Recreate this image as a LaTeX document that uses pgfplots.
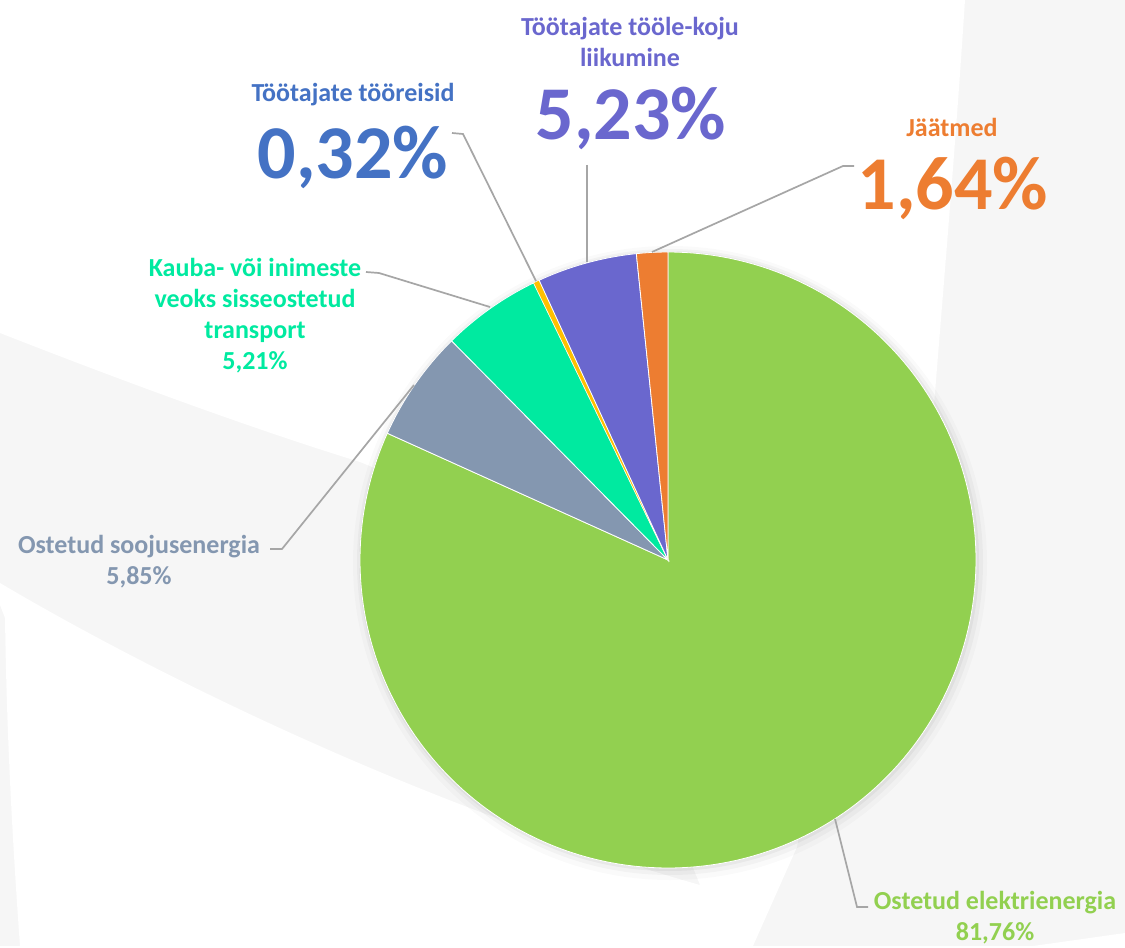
\documentclass[border=0pt]{standalone}
\usepackage{fontspec}
\setmainfont{Carlito}
\usepackage{pgfplots}
\pgfplotsset{compat=1.18}

\definecolor{cElek}{HTML}{92D050}
\definecolor{cSoo}{HTML}{8497B0}
\definecolor{cKau}{HTML}{00EAA0}
\definecolor{cReis}{HTML}{FFC000}
\definecolor{cReisTxt}{HTML}{4472C4}
\definecolor{cKoju}{HTML}{6A67CE}
\definecolor{cJaat}{HTML}{ED7D31}
\definecolor{bggray}{HTML}{F6F6F6}
\definecolor{leadgray}{HTML}{A6A6A6}

\tikzset{
  lbl/.style  = {font=\fontsize{26}{31}\selectfont\bfseries, align=center},
  big/.style  = {font=\fontsize{76}{80}\selectfont\bfseries},
  lead/.style = {draw=leadgray, line width=1.7pt},
  slice/.style = {draw=white, line width=0.8pt},
}

\begin{document}
\begin{tikzpicture}
% shares in percent, counter-clockwise from 12 o'clock
\pgfmathsetmacro\aA{90}
\pgfmathsetmacro\aB{\aA+3.6*1.64}  % Jaatmed
\pgfmathsetmacro\aC{\aB+3.6*5.23}  % toole-koju
\pgfmathsetmacro\aD{\aC+3.6*0.32}  % tooreisid
\pgfmathsetmacro\aE{\aD+3.6*5.21}  % kauba/inimeste transport
\pgfmathsetmacro\aF{\aE+3.6*5.85}  % soojusenergia
\pgfmathsetmacro\aG{450}           % elektrienergia 81.76
\begin{axis}[
  width=1125pt, height=946pt, scale only axis,
  xmin=0, xmax=1125, ymin=0, ymax=946, y dir=reverse,
  hide axis, clip=false,
]
% faint background swoosh
\fill[bggray] (0,0) rectangle (1125,946);
\fill[white] (0,0) -- (965,0) .. controls (952,200) and (935,380) .. (927,500)
  -- (600,560) -- (360,462) .. controls (250,428) and (120,380) .. (0,333) -- cycle;
\fill[white] (0,583) .. controls (130,660) and (400,800) .. (700,885)
  -- (690,860) -- (800,830) -- (797,847) -- (753,946) -- (20,946)
  .. controls (8,780) and (6,680) .. (5,618) -- (0,605) -- cycle;
\fill[white] (1033,946) -- (1125,933) -- (1125,946) -- cycle;
% soft shadow
\fill[black, opacity=0.02] (670,563) circle[radius=317];
\fill[black, opacity=0.03] (670,562) circle[radius=313];
\fill[black, opacity=0.04] (669,561) circle[radius=310];

\addplot[slice, fill=cElek, domain=\aF:\aG, samples=200]
  ({668+308*cos(x)},{560-308*sin(x)}) -- (668,560) -- cycle;
\addplot[slice, fill=cSoo, domain=\aE:\aF, samples=20]
  ({668+308*cos(x)},{560-308*sin(x)}) -- (668,560) -- cycle;
\addplot[slice, fill=cKau, domain=\aD:\aE, samples=20]
  ({668+308*cos(x)},{560-308*sin(x)}) -- (668,560) -- cycle;
\addplot[slice, fill=cReis, domain=\aC:\aD, samples=5, line width=0.4pt]
  ({668+308*cos(x)},{560-308*sin(x)}) -- (668,560) -- cycle;
\addplot[slice, fill=cKoju, domain=\aB:\aC, samples=20]
  ({668+308*cos(x)},{560-308*sin(x)}) -- (668,560) -- cycle;
\addplot[slice, fill=cJaat, domain=\aA:\aB, samples=5]
  ({668+308*cos(x)},{560-308*sin(x)}) -- (668,560) -- cycle;

% leader lines
\draw[lead] (854,166) -- (843,166) -- (652,252);
\draw[lead] (587,165) -- (587,262);
\draw[lead] (452,133) -- (463,134) -- (536,281);
\draw[lead] (366,272) -- (379,273) -- (490,307);
\draw[lead] (270,549) -- (282,549) -- (414,385);
\draw[lead] (835,819) -- (857,907) -- (868,907);

% labels
\node[lbl, text=cReisTxt] at (353,95) {Töötajate tööreisid};
\node[big, text=cReisTxt] at (353,157) {0,32\%};
\node[lbl, text=cKoju] at (630,42) {Töötajate tööle-koju\\liikumine};
\node[big, text=cKoju] at (631,118) {5,23\%};
\node[lbl, text=cJaat] at (952,127) {Jäätmed};
\node[big, text=cJaat] at (953,188) {1,64\%};
\node[lbl, text=cKau] at (255,316) {Kauba- või inimeste\\veoks sisseostetud\\transport\\5,21\%};
\node[lbl, text=cSoo] at (139,562) {Ostetud soojusenergia\\5,85\%};
\node[lbl, text=cElek] at (995,918) {Ostetud elektrienergia\\81,76\%};
\end{axis}
\end{tikzpicture}
\end{document}
